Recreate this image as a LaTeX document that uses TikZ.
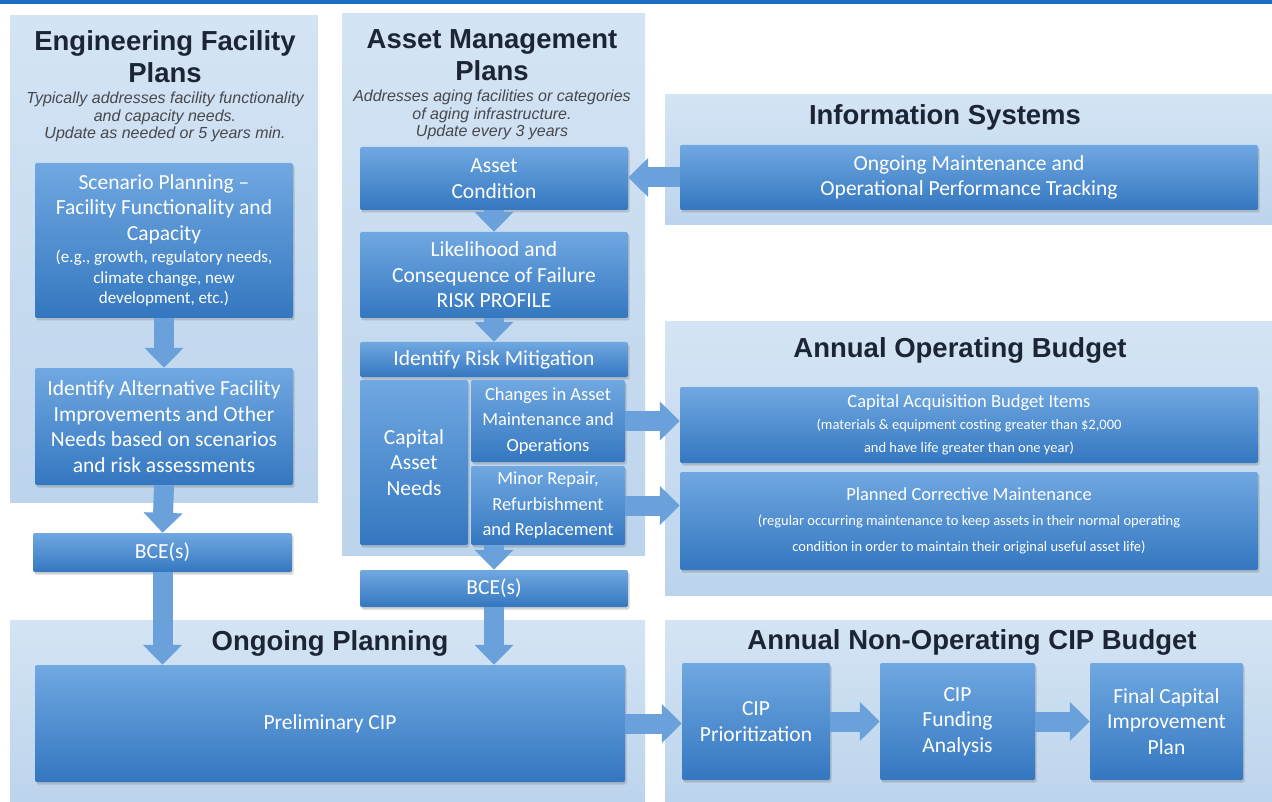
\documentclass[tikz,border=0pt]{standalone}
\usepackage{fontspec}
\setmainfont{Carlito}
\newfontfamily\headfont{Liberation Sans}
\usetikzlibrary{arrows.meta,shadows}

\definecolor{topbar}{RGB}{26,109,191}
\definecolor{panelhi}{RGB}{212,228,244}
\definecolor{panello}{RGB}{188,212,236}
\definecolor{boxhi}{RGB}{112,168,225}
\definecolor{boxlo}{RGB}{52,119,192}
\definecolor{flow}{RGB}{106,161,218}
\definecolor{heading}{RGB}{28,37,51}
\definecolor{note}{RGB}{70,72,76}

% line sizes used inside the boxes
\newcommand{\sm}{\fontsize{17}{20.5}\selectfont}
\newcommand{\lead}{\fontsize{18.5}{22}\selectfont}
\newcommand{\fine}{\fontsize{14.5}{20}\selectfont}

\tikzset{
  panel/.style={top color=panelhi, bottom color=panello},
  box/.style={rectangle, rounded corners=2pt, top color=boxhi, bottom color=boxlo,
    text=white, align=center, inner sep=0pt, font=\fontsize{21.5}{25.5}\selectfont,
    drop shadow={shadow xshift=1.5pt, shadow yshift=-2.5pt, opacity=0.35}},
  title/.style={font=\headfont\bfseries\fontsize{27.5}{32}\selectfont, text=heading,
    align=center, inner sep=0pt},
  subtitle/.style={font=\headfont\itshape\fontsize{16}{17.5}\selectfont, text=note,
    align=center, inner sep=0pt},
  flowarrow/.style={draw=flow, line width=20pt,
    -{Triangle[width=38pt,length=20pt]}},
}

\begin{document}
\begin{tikzpicture}[x=1pt,y=-1pt]
\useasboundingbox (0,0) rectangle (1272,802);
\fill[topbar] (0,0) rectangle (1272,4);

% background panels
\shade[panel] (10,16) rectangle (318,502);
\shade[panel] (342,14) rectangle (645,555);
\shade[panel] (665,95) rectangle (1272,225);
\shade[panel] (665,322) rectangle (1272,595);
\shade[panel] (10,620) rectangle (645,802);
\shade[panel] (665,620) rectangle (1272,802);

\node[title] (efpT) at (165,57) {Engineering Facility\\Plans};
\node[subtitle] (efpS) at (165,117) {Typically addresses facility functionality\\and capacity needs.\\Update as needed or 5 years min.};
\node[title] (amT) at (492,55) {Asset Management\\Plans};
\node[subtitle] (amS) at (492,115) {Addresses aging facilities or categories\\of aging infrastructure.\\Update every 3 years};
\node[title] (infoT) at (945,117) {Information Systems};
\node[title] (aobT) at (960,350) {Annual Operating Budget};
\node[title] (opT) at (330,643) {Ongoing Planning};
\node[title] (nocT) at (972,642) {Annual Non-Operating CIP Budget};

% engineering facility plans
\node[box, minimum width=258pt, minimum height=155pt] (scen) at (164,240.5)
  {Scenario Planning --\\Facility Functionality and\\Capacity\\[-3pt]
   \sm (e.g., growth, regulatory needs,\\[-5pt] \sm climate change, new\\[-5pt] \sm development, etc.)};
\node[box, minimum width=258pt, minimum height=117pt] (alt) at (164,426.5)
  {Identify Alternative Facility\\Improvements and Other\\Needs based on scenarios\\and risk assessments};
\node[box, minimum width=259pt, minimum height=39pt] (bceA) at (162.5,552.5) {BCE(s)};

% asset management plans
\node[box, minimum width=268pt, minimum height=63pt] (cond) at (494,178.5) {Asset\\Condition};
\node[box, minimum width=268pt, minimum height=86pt] (risk) at (494,275)
  {Likelihood and\\Consequence of Failure\\RISK PROFILE};
\node[box, minimum width=268pt, minimum height=35pt] (mitig) at (494,359.5) {Identify Risk Mitigation};
\node[box, minimum width=108pt, minimum height=165pt] (needs) at (414,462.5) {Capital\\Asset\\Needs};
\node[box, minimum width=154pt, minimum height=82pt] (changes) at (548,421)
  {\lead Changes in Asset\\ \lead Maintenance and\\ \lead Operations};
\node[box, minimum width=154pt, minimum height=79pt] (repair) at (548,505.5)
  {\lead Minor Repair,\\ \lead Refurbishment\\ \lead and Replacement};
\node[box, minimum width=268pt, minimum height=37pt] (bceB) at (494,588.5) {BCE(s)};

% information systems and operating budget
\node[box, minimum width=578pt, minimum height=65pt] (maint) at (969,177.5)
  {Ongoing Maintenance and\\Operational Performance Tracking};
\node[box, minimum width=578pt, minimum height=76pt] (acq) at (969,425)
  {\lead Capital Acquisition Budget Items\\[-4pt]
   \fine (materials \& equipment costing greater than \$2,000\\[-2pt]
   \fine and have life greater than one year)};
\node[box, minimum width=578pt, minimum height=98pt] (plan) at (969,521)
  {\lead Planned Corrective Maintenance\\[-1pt]
   \fine (regular occurring maintenance to keep assets in their normal operating\\[1pt]
   \fine condition in order to maintain their original useful asset life)};

% planning and CIP budget
\node[box, minimum width=590pt, minimum height=117pt] (prelim) at (330,723.5) {Preliminary CIP};
\node[box, minimum width=148pt, minimum height=117pt] (prio) at (756,721.5) {CIP\\Prioritization};
\node[box, minimum width=155pt, minimum height=117pt] (fund) at (957.5,721.5) {CIP\\Funding\\Analysis};
\node[box, minimum width=153pt, minimum height=117pt] (final) at (1166.5,721.5) {Final Capital\\Improvement\\Plan};

\draw[flowarrow] (scen.south) -- (alt.north);
\draw[flowarrow] (alt.south) -- (bceA.north);
\draw[flowarrow] (bceA.south) -- (bceA.south |- prelim.north);
\draw[flowarrow] (cond.south) -- (risk.north);
\draw[flowarrow] (risk.south) -- (mitig.north);
\draw[flowarrow] (repair.south -| bceB.north) -- (bceB.north);
\draw[flowarrow] (bceB.south) -- (bceB.south |- prelim.north);
\draw[flowarrow] (maint.west) -- (maint.west -| cond.east);
\draw[flowarrow] (changes.east) -- (changes.east -| acq.west);
\draw[flowarrow] (repair.east) -- (repair.east -| plan.west);
\draw[flowarrow] (prelim.east) -- (prelim.east -| prio.west);
\draw[flowarrow] (prio.east) -- (fund.west);
\draw[flowarrow] (fund.east) -- (final.west);
\end{tikzpicture}
\end{document}
